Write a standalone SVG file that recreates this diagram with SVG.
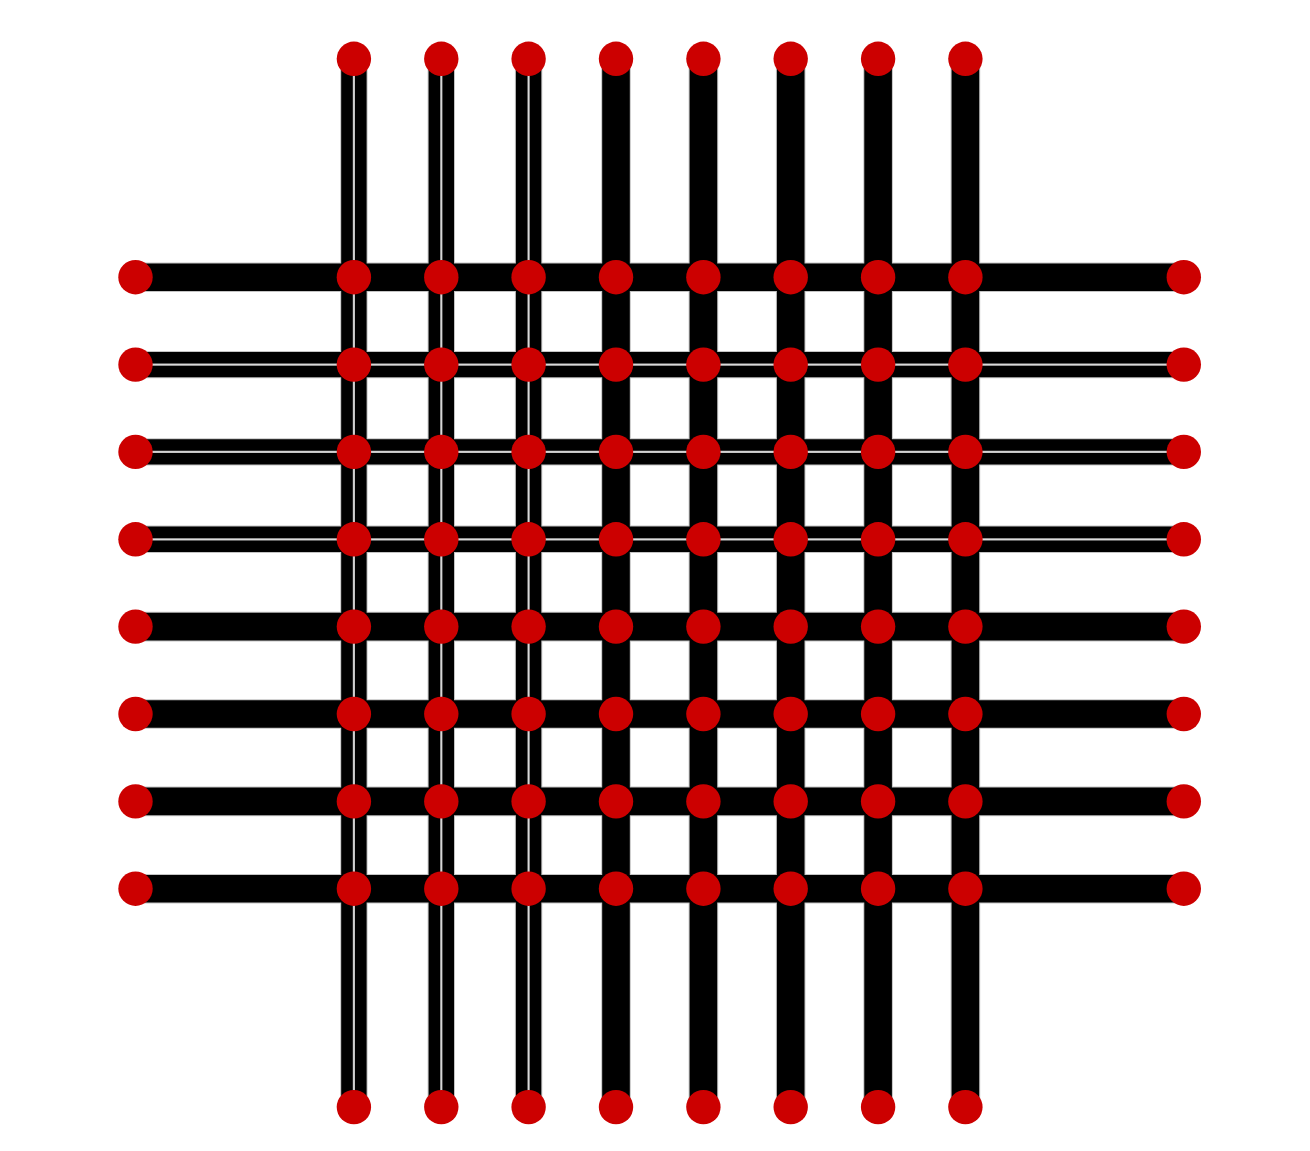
<svg xmlns="http://www.w3.org/2000/svg" xmlns:xlink="http://www.w3.org/1999/xlink" width="1310" height="1151" viewBox="0 0 1310 1151">
<style>
.g{fill:none;stroke:#c4c4c4;stroke-width:29.6}
.b{fill:none;stroke:#000;stroke-width:27.6}
.gd{fill:none;stroke:#c4c4c4;stroke-width:13.6}
.bd{fill:none;stroke:#000;stroke-width:11.6}
.n{fill:#cc0000}
</style>
<defs>
<path id="h" d="M135.5 0H353.9M353.9 0H441.3M441.3 0H528.6M528.6 0H616M616 0H703.4M703.4 0H790.7M790.7 0H878.1M878.1 0H965.4M965.4 0H1183.8"/>
<path id="v" d="M0 58.8V277.2M0 277.2V364.6M0 364.6V451.9M0 451.9V539.3M0 539.3V626.6M0 626.6V714M0 714V801.4M0 801.4V888.7M0 888.7V1107.1"/>
</defs>
<rect width="1310" height="1151" fill="#fff"/>
<g id="connectors">
<g id="vertical-edges">
<use href="#v" x="347.0" class="gd"/><use href="#v" x="360.8" class="gd"/>
<use href="#v" x="434.4" class="gd"/><use href="#v" x="448.2" class="gd"/>
<use href="#v" x="521.7" class="gd"/><use href="#v" x="535.5" class="gd"/>
<use href="#v" x="616.0" class="g"/>
<use href="#v" x="703.4" class="g"/>
<use href="#v" x="790.7" class="g"/>
<use href="#v" x="878.1" class="g"/>
<use href="#v" x="965.4" class="g"/>
</g>
<g id="horizontal-edges-outline">
<use href="#h" y="277.2" class="g"/>
<use href="#h" y="357.7" class="gd"/><use href="#h" y="371.5" class="gd"/>
<use href="#h" y="445.0" class="gd"/><use href="#h" y="458.8" class="gd"/>
<use href="#h" y="532.4" class="gd"/><use href="#h" y="546.2" class="gd"/>
<use href="#h" y="626.6" class="g"/>
<use href="#h" y="714.0" class="g"/>
<use href="#h" y="801.4" class="g"/>
<use href="#h" y="888.7" class="g"/>
</g>
<g id="vertical-edges-fill">
<use href="#v" x="347.0" class="bd"/><use href="#v" x="360.8" class="bd"/>
<use href="#v" x="434.4" class="bd"/><use href="#v" x="448.2" class="bd"/>
<use href="#v" x="521.7" class="bd"/><use href="#v" x="535.5" class="bd"/>
<use href="#v" x="616.0" class="b"/>
<use href="#v" x="703.4" class="b"/>
<use href="#v" x="790.7" class="b"/>
<use href="#v" x="878.1" class="b"/>
<use href="#v" x="965.4" class="b"/>
</g>
<g id="horizontal-edges">
<use href="#h" y="277.2" class="b"/>
<use href="#h" y="357.7" class="bd"/><use href="#h" y="371.5" class="bd"/>
<use href="#h" y="445.0" class="bd"/><use href="#h" y="458.8" class="bd"/>
<use href="#h" y="532.4" class="bd"/><use href="#h" y="546.2" class="bd"/>
<use href="#h" y="626.6" class="b"/>
<use href="#h" y="714.0" class="b"/>
<use href="#h" y="801.4" class="b"/>
<use href="#h" y="888.7" class="b"/>
</g>
</g>
<g id="nodes">
<g id="t1"><circle class="n" cx="353.9" cy="58.8" r="17.2"/></g>
<g id="t2"><circle class="n" cx="441.3" cy="58.8" r="17.2"/></g>
<g id="t3"><circle class="n" cx="528.6" cy="58.8" r="17.2"/></g>
<g id="t4"><circle class="n" cx="616.0" cy="58.8" r="17.2"/></g>
<g id="t5"><circle class="n" cx="703.4" cy="58.8" r="17.2"/></g>
<g id="t6"><circle class="n" cx="790.7" cy="58.8" r="17.2"/></g>
<g id="t7"><circle class="n" cx="878.1" cy="58.8" r="17.2"/></g>
<g id="t8"><circle class="n" cx="965.4" cy="58.8" r="17.2"/></g>
<g id="b1"><circle class="n" cx="353.9" cy="1107.1" r="17.2"/></g>
<g id="b2"><circle class="n" cx="441.3" cy="1107.1" r="17.2"/></g>
<g id="b3"><circle class="n" cx="528.6" cy="1107.1" r="17.2"/></g>
<g id="b4"><circle class="n" cx="616.0" cy="1107.1" r="17.2"/></g>
<g id="b5"><circle class="n" cx="703.4" cy="1107.1" r="17.2"/></g>
<g id="b6"><circle class="n" cx="790.7" cy="1107.1" r="17.2"/></g>
<g id="b7"><circle class="n" cx="878.1" cy="1107.1" r="17.2"/></g>
<g id="b8"><circle class="n" cx="965.4" cy="1107.1" r="17.2"/></g>
<g id="l1"><circle class="n" cx="135.5" cy="277.2" r="17.2"/></g>
<g id="l2"><circle class="n" cx="135.5" cy="364.6" r="17.2"/></g>
<g id="l3"><circle class="n" cx="135.5" cy="451.9" r="17.2"/></g>
<g id="l4"><circle class="n" cx="135.5" cy="539.3" r="17.2"/></g>
<g id="l5"><circle class="n" cx="135.5" cy="626.6" r="17.2"/></g>
<g id="l6"><circle class="n" cx="135.5" cy="714.0" r="17.2"/></g>
<g id="l7"><circle class="n" cx="135.5" cy="801.4" r="17.2"/></g>
<g id="l8"><circle class="n" cx="135.5" cy="888.7" r="17.2"/></g>
<g id="r1"><circle class="n" cx="1183.8" cy="277.2" r="17.2"/></g>
<g id="r2"><circle class="n" cx="1183.8" cy="364.6" r="17.2"/></g>
<g id="r3"><circle class="n" cx="1183.8" cy="451.9" r="17.2"/></g>
<g id="r4"><circle class="n" cx="1183.8" cy="539.3" r="17.2"/></g>
<g id="r5"><circle class="n" cx="1183.8" cy="626.6" r="17.2"/></g>
<g id="r6"><circle class="n" cx="1183.8" cy="714.0" r="17.2"/></g>
<g id="r7"><circle class="n" cx="1183.8" cy="801.4" r="17.2"/></g>
<g id="r8"><circle class="n" cx="1183.8" cy="888.7" r="17.2"/></g>
<g id="n1-1"><circle class="n" cx="353.9" cy="277.2" r="17.2"/></g>
<g id="n1-2"><circle class="n" cx="441.3" cy="277.2" r="17.2"/></g>
<g id="n1-3"><circle class="n" cx="528.6" cy="277.2" r="17.2"/></g>
<g id="n1-4"><circle class="n" cx="616.0" cy="277.2" r="17.2"/></g>
<g id="n1-5"><circle class="n" cx="703.4" cy="277.2" r="17.2"/></g>
<g id="n1-6"><circle class="n" cx="790.7" cy="277.2" r="17.2"/></g>
<g id="n1-7"><circle class="n" cx="878.1" cy="277.2" r="17.2"/></g>
<g id="n1-8"><circle class="n" cx="965.4" cy="277.2" r="17.2"/></g>
<g id="n2-1"><circle class="n" cx="353.9" cy="364.6" r="17.2"/></g>
<g id="n2-2"><circle class="n" cx="441.3" cy="364.6" r="17.2"/></g>
<g id="n2-3"><circle class="n" cx="528.6" cy="364.6" r="17.2"/></g>
<g id="n2-4"><circle class="n" cx="616.0" cy="364.6" r="17.2"/></g>
<g id="n2-5"><circle class="n" cx="703.4" cy="364.6" r="17.2"/></g>
<g id="n2-6"><circle class="n" cx="790.7" cy="364.6" r="17.2"/></g>
<g id="n2-7"><circle class="n" cx="878.1" cy="364.6" r="17.2"/></g>
<g id="n2-8"><circle class="n" cx="965.4" cy="364.6" r="17.2"/></g>
<g id="n3-1"><circle class="n" cx="353.9" cy="451.9" r="17.2"/></g>
<g id="n3-2"><circle class="n" cx="441.3" cy="451.9" r="17.2"/></g>
<g id="n3-3"><circle class="n" cx="528.6" cy="451.9" r="17.2"/></g>
<g id="n3-4"><circle class="n" cx="616.0" cy="451.9" r="17.2"/></g>
<g id="n3-5"><circle class="n" cx="703.4" cy="451.9" r="17.2"/></g>
<g id="n3-6"><circle class="n" cx="790.7" cy="451.9" r="17.2"/></g>
<g id="n3-7"><circle class="n" cx="878.1" cy="451.9" r="17.2"/></g>
<g id="n3-8"><circle class="n" cx="965.4" cy="451.9" r="17.2"/></g>
<g id="n4-1"><circle class="n" cx="353.9" cy="539.3" r="17.2"/></g>
<g id="n4-2"><circle class="n" cx="441.3" cy="539.3" r="17.2"/></g>
<g id="n4-3"><circle class="n" cx="528.6" cy="539.3" r="17.2"/></g>
<g id="n4-4"><circle class="n" cx="616.0" cy="539.3" r="17.2"/></g>
<g id="n4-5"><circle class="n" cx="703.4" cy="539.3" r="17.2"/></g>
<g id="n4-6"><circle class="n" cx="790.7" cy="539.3" r="17.2"/></g>
<g id="n4-7"><circle class="n" cx="878.1" cy="539.3" r="17.2"/></g>
<g id="n4-8"><circle class="n" cx="965.4" cy="539.3" r="17.2"/></g>
<g id="n5-1"><circle class="n" cx="353.9" cy="626.6" r="17.2"/></g>
<g id="n5-2"><circle class="n" cx="441.3" cy="626.6" r="17.2"/></g>
<g id="n5-3"><circle class="n" cx="528.6" cy="626.6" r="17.2"/></g>
<g id="n5-4"><circle class="n" cx="616.0" cy="626.6" r="17.2"/></g>
<g id="n5-5"><circle class="n" cx="703.4" cy="626.6" r="17.2"/></g>
<g id="n5-6"><circle class="n" cx="790.7" cy="626.6" r="17.2"/></g>
<g id="n5-7"><circle class="n" cx="878.1" cy="626.6" r="17.2"/></g>
<g id="n5-8"><circle class="n" cx="965.4" cy="626.6" r="17.2"/></g>
<g id="n6-1"><circle class="n" cx="353.9" cy="714.0" r="17.2"/></g>
<g id="n6-2"><circle class="n" cx="441.3" cy="714.0" r="17.2"/></g>
<g id="n6-3"><circle class="n" cx="528.6" cy="714.0" r="17.2"/></g>
<g id="n6-4"><circle class="n" cx="616.0" cy="714.0" r="17.2"/></g>
<g id="n6-5"><circle class="n" cx="703.4" cy="714.0" r="17.2"/></g>
<g id="n6-6"><circle class="n" cx="790.7" cy="714.0" r="17.2"/></g>
<g id="n6-7"><circle class="n" cx="878.1" cy="714.0" r="17.2"/></g>
<g id="n6-8"><circle class="n" cx="965.4" cy="714.0" r="17.2"/></g>
<g id="n7-1"><circle class="n" cx="353.9" cy="801.4" r="17.2"/></g>
<g id="n7-2"><circle class="n" cx="441.3" cy="801.4" r="17.2"/></g>
<g id="n7-3"><circle class="n" cx="528.6" cy="801.4" r="17.2"/></g>
<g id="n7-4"><circle class="n" cx="616.0" cy="801.4" r="17.2"/></g>
<g id="n7-5"><circle class="n" cx="703.4" cy="801.4" r="17.2"/></g>
<g id="n7-6"><circle class="n" cx="790.7" cy="801.4" r="17.2"/></g>
<g id="n7-7"><circle class="n" cx="878.1" cy="801.4" r="17.2"/></g>
<g id="n7-8"><circle class="n" cx="965.4" cy="801.4" r="17.2"/></g>
<g id="n8-1"><circle class="n" cx="353.9" cy="888.7" r="17.2"/></g>
<g id="n8-2"><circle class="n" cx="441.3" cy="888.7" r="17.2"/></g>
<g id="n8-3"><circle class="n" cx="528.6" cy="888.7" r="17.2"/></g>
<g id="n8-4"><circle class="n" cx="616.0" cy="888.7" r="17.2"/></g>
<g id="n8-5"><circle class="n" cx="703.4" cy="888.7" r="17.2"/></g>
<g id="n8-6"><circle class="n" cx="790.7" cy="888.7" r="17.2"/></g>
<g id="n8-7"><circle class="n" cx="878.1" cy="888.7" r="17.2"/></g>
<g id="n8-8"><circle class="n" cx="965.4" cy="888.7" r="17.2"/></g>
</g>
</svg>
